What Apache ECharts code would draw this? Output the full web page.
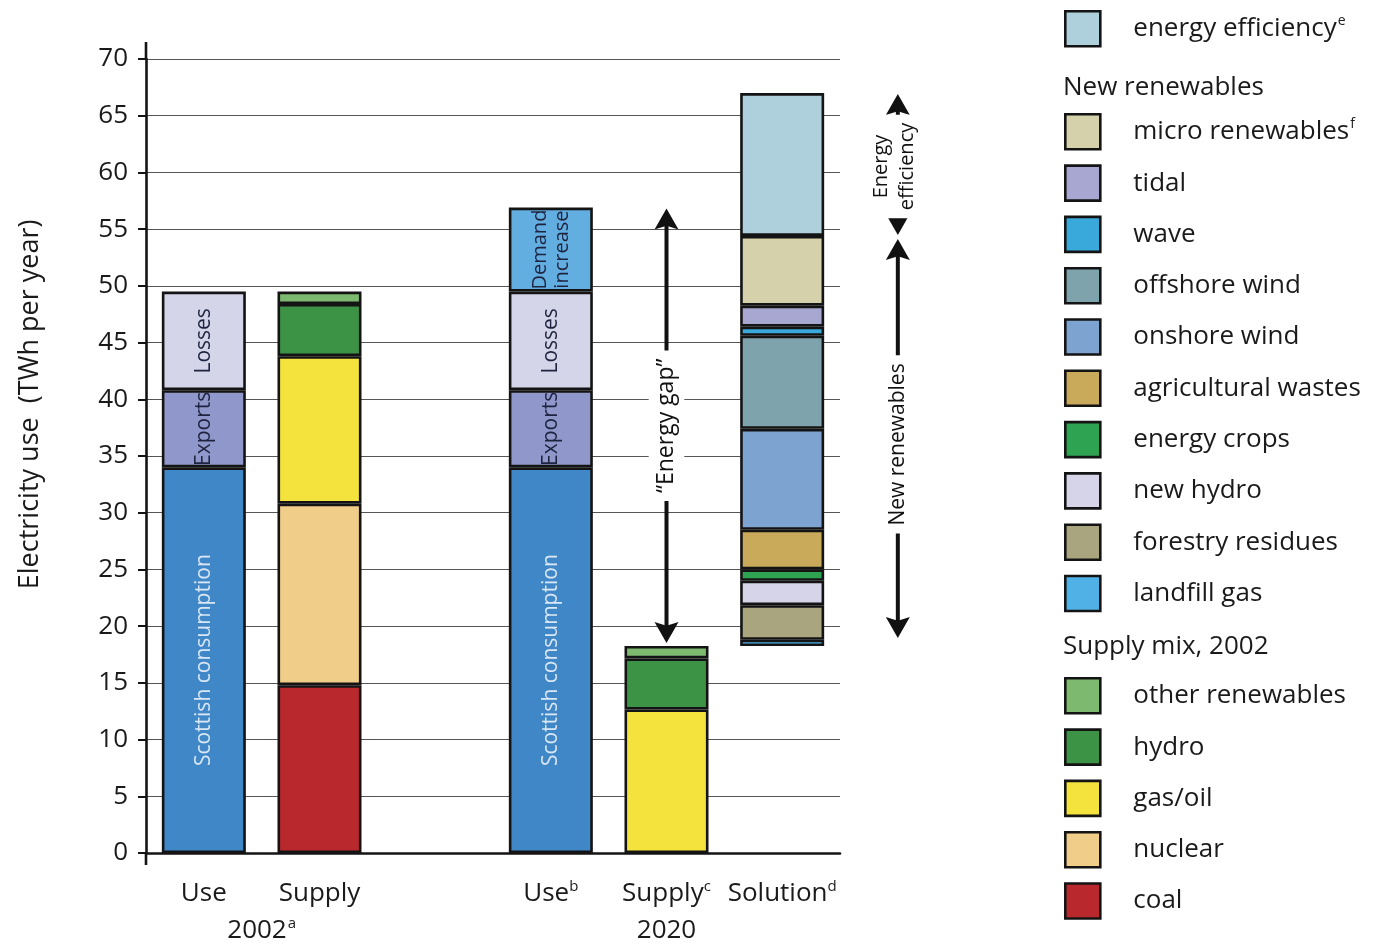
<!DOCTYPE html>
<html><head><meta charset="utf-8">
<script src="https://cdn.jsdelivr.net/npm/echarts@6/dist/echarts.min.js"></script>
<style>html,body{margin:0;padding:0;background:#fff}#c{width:1379px;height:945px}</style>
</head><body><div id="c"></div>
<script>
// ---------- data ----------
const categories = ['Use', 'Supply', '', 'Use', 'Supply', 'Solution'];
const categorySup = ['', '', '', 'b', 'c', 'd'];
const groupLabels = [
  { text: '2002', sup: 'a', from: 0, to: 1 },
  { text: '2020', sup: '', from: 3, to: 5 }
];
const yMin = 0, yMax = 70, yStep = 5;

// Use bars
const scottishConsumption = [34, '-', '-', 34, '-', '-'];
const exportsVals        = [6.8, '-', '-', 6.8, '-', '-'];
const losses             = [8.7, '-', '-', 8.7, '-', '-'];
const demandIncrease     = ['-', '-', '-', 7.4, '-', '-'];
// Supply mix
const coal            = ['-', 14.8, '-', '-', '-', '-'];
const nuclear         = ['-', 16.0, '-', '-', '-', '-'];
const gasOil          = ['-', 13.0, '-', '-', 12.65, '-'];
const hydro           = ['-', 4.6, '-', '-', 4.5, '-'];
const otherRenewables = ['-', 1.1, '-', '-', 1.1, '-'];
// Solution (stacked on top of the 2020 supply level)
const solutionBase       = ['-', '-', '-', '-', '-', 18.25];
const landfillGas        = ['-', '-', '-', '-', '-', 0.55];
const forestryResidues   = ['-', '-', '-', '-', '-', 3.05];
const newHydro           = ['-', '-', '-', '-', '-', 2.15];
const energyCrops        = ['-', '-', '-', '-', '-', 1.0];
const agriculturalWastes = ['-', '-', '-', '-', '-', 3.5];
const onshoreWind        = ['-', '-', '-', '-', '-', 8.9];
const offshoreWind       = ['-', '-', '-', '-', '-', 8.2];
const wave               = ['-', '-', '-', '-', '-', 0.8];
const tidal              = ['-', '-', '-', '-', '-', 1.85];
const microRenewables    = ['-', '-', '-', '-', '-', 6.15];
const energyEfficiency   = ['-', '-', '-', '-', '-', 12.6];

// ---------- styling ----------
const FONT = '"Open Sans", "Noto Sans", sans-serif';
const BORDER = '#141414';
const sumAt = (arrs, i) => arrs.reduce((s, a) => s + (typeof a[i] === 'number' ? a[i] : 0), 0);

function bar(name, data, color, label) {
  return {
    type: 'bar', name, data, stack: 'total', barWidth: 84,
    itemStyle: { color, borderColor: BORDER, borderWidth: 2.6 },
    label: label ? Object.assign({ show: true, position: 'inside', rotate: 90, fontFamily: FONT, fontSize: 21 }, label) : { show: false },
    emphasis: { disabled: true }, silent: true
  };
}

const series = [
  { type: 'bar', name: 'base', data: solutionBase, stack: 'total', barWidth: 84,
    itemStyle: { color: 'rgba(0,0,0,0)', borderWidth: 0 }, silent: true, emphasis: { disabled: true } },
  bar('Scottish consumption', scottishConsumption, '#3f87c6', { formatter: 'Scottish consumption', color: '#d8e6f5' }),
  bar('Exports', exportsVals, '#9098cb', { formatter: 'Exports', color: '#1e2340' }),
  bar('Losses', losses, '#d4d5e9', { formatter: 'Losses', color: '#1e2340' }),
  bar('Demand increase', demandIncrease, '#62aee0', { formatter: 'Demand\nincrease', color: '#1e2340', lineHeight: 22, fontSize: 20 }),
  bar('coal', coal, '#b8282c'),
  bar('nuclear', nuclear, '#f0cd88'),
  bar('gas/oil', gasOil, '#f3e33c'),
  bar('hydro', hydro, '#3d9345'),
  bar('other renewables', otherRenewables, '#7dba6f'),
  bar('landfill gas', landfillGas, '#4fb1e6'),
  bar('forestry residues', forestryResidues, '#a8a57f'),
  bar('new hydro', newHydro, '#d5d4e9'),
  bar('energy crops', energyCrops, '#2ea452'),
  bar('agricultural wastes', agriculturalWastes, '#c9a95a'),
  bar('onshore wind', onshoreWind, '#7da3d1'),
  bar('offshore wind', offshoreWind, '#7fa3ad'),
  bar('wave', wave, '#38a9da'),
  bar('tidal', tidal, '#a7a7d2'),
  bar('micro renewables', microRenewables, '#d4d1ab'),
  bar('energy efficiency', energyEfficiency, '#aecfdc')
];

const legendSup = { 'energy efficiency': 'e', 'micro renewables': 'f' };
const legendCommon = {
  orient: 'vertical', left: 1064, padding: 0, itemWidth: 35, itemHeight: 35, itemGap: 13.7,
  icon: 'rect', selectedMode: false,
  itemStyle: { borderColor: BORDER, borderWidth: 2.6 },
  formatter: n => legendSup[n] ? '{t|' + n + '}{s|' + legendSup[n] + '}' : '{t|' + n + '}',
  textStyle: {
    padding: [0, 0, 0, 28],
    rich: {
      t: { fontFamily: FONT, fontSize: 26, color: '#1a1a1a', lineHeight: 30 },
      s: { fontFamily: FONT, fontSize: 14, color: '#1a1a1a', verticalAlign: 'top', lineHeight: 30, padding: [0, 0, 12, 1] }
    }
  }
};

const option = {
  animation: false,
  backgroundColor: '#fff',
  grid: { left: 146, right: 539, top: 59, bottom: 92 },
  xAxis: {
    type: 'category', data: categories,
    axisLine: { lineStyle: { color: BORDER, width: 2.6 } },
    axisTick: { show: false },
    axisLabel: {
      margin: 26, interval: 0,
      formatter: (v, i) => '{t|' + v + '}' + (categorySup[i] ? '{s|' + categorySup[i] + '}' : ''),
      rich: {
        t: { fontFamily: FONT, fontSize: 26, color: '#1a1a1a', lineHeight: 30 },
        s: { fontFamily: FONT, fontSize: 15, color: '#1a1a1a', verticalAlign: 'top', lineHeight: 30, padding: [0, 0, 12, 0] }
      }
    }
  },
  yAxis: {
    type: 'value', min: yMin, max: yMax, interval: yStep,
    axisLine: { show: true, lineStyle: { color: BORDER, width: 2.6 } },
    axisTick: { show: true, length: 8, lineStyle: { color: BORDER, width: 2 } },
    axisLabel: { fontFamily: FONT, fontSize: 26, color: '#1a1a1a', margin: 18 },
    splitLine: { lineStyle: { color: '#555', width: 1.2 } }
  },
  legend: [
    Object.assign({}, legendCommon, { top: 10, data: ['energy efficiency'] }),
    Object.assign({}, legendCommon, { top: 113, data: ['micro renewables', 'tidal', 'wave', 'offshore wind', 'onshore wind',
      'agricultural wastes', 'energy crops', 'new hydro', 'forestry residues', 'landfill gas'] }),
    Object.assign({}, legendCommon, { top: 677, data: ['other renewables', 'hydro', 'gas/oil', 'nuclear', 'coal'] })
  ],
  series
};

const chart = echarts.init(document.getElementById('c'), null, { renderer: 'canvas' });
chart.setOption(option);

// ---------- annotations positioned via the chart's scales ----------
const px = (i, v) => chart.convertToPixel({ gridIndex: 0 }, [i, v]);
const useStackTop = sumAt([scottishConsumption, exportsVals, losses, demandIncrease], 3);
const supply2020Top = sumAt([gasOil, hydro, otherRenewables], 4);
const solutionArrs = [solutionBase, landfillGas, forestryResidues, newHydro, energyCrops, agriculturalWastes,
  onshoreWind, offshoreWind, wave, tidal, microRenewables];
const renewTop = sumAt(solutionArrs, 5);
const solutionTop = renewTop + energyEfficiency[5];

const g = [];
const LW = 4;
function arrowHead(x, yTip, dir) { // dir: -1 up, +1 down
  const w = 12, h = 21;
  return { type: 'polygon', shape: { points: [[x, yTip], [x - w, yTip - dir * h], [x, yTip - dir * h * 0.82], [x + w, yTip - dir * h]] },
    style: { fill: '#111' }, z: 100 };
}
function vArrow(x, yTop, yBot) {
  g.push({ type: 'line', shape: { x1: x, y1: yTop + 12, x2: x, y2: yBot - 12 }, style: { stroke: '#111', lineWidth: LW }, z: 99 });
  g.push(arrowHead(x, yTop, -1));
  g.push(arrowHead(x, yBot, 1));
}
function vText(x, y, text, size, lh) {
  g.push({ type: 'text', x, y, rotation: Math.PI / 2, z: 101,
    style: { text, fontFamily: FONT, fontSize: size, fill: '#111', lineHeight: lh || size * 1.2,
      align: 'center', verticalAlign: 'middle', textAlign: 'center', textVerticalAlign: 'middle',
      backgroundColor: '#fff', padding: [4, 8] } });
}

// Energy gap arrow
const gx = px(4, 0)[0];
const gTop = px(4, useStackTop)[1] + 1, gBot = px(4, supply2020Top)[1] - 3;
vArrow(gx, gTop, gBot);
vText(gx, (gTop + gBot) / 2, '\u201CEnergy gap\u201D', 23);

// Right side arrows
const step = px(5, 0)[0] - px(4, 0)[0];
const rx = px(5, 0)[0] + step;
const eTop = px(5, solutionTop)[1] + 1, eBot = px(5, renewTop)[1] - 1;
const nTop = px(5, renewTop)[1] + 3, nBot = px(5, supply2020Top)[1] - 8;
vArrow(rx, eTop, eBot);
vText(rx - 4, (eTop + eBot) / 2 + 2, 'Energy\nefficiency', 20, 26);
vArrow(rx, nTop, nBot);
vText(rx, (nTop + nBot) / 2 + 6, 'New renewables', 21);

// Y axis title
const y0 = px(0, yMin)[1], y70 = px(0, yMax)[1];
g.push({ type: 'text', x: 30, y: y70 + (y0 - y70) * 0.435, rotation: Math.PI / 2,
  style: { text: 'Electricity use  (TWh per year)', fontFamily: FONT, fontSize: 27, fill: '#1a1a1a',
    align: 'center', verticalAlign: 'middle', textAlign: 'center', textVerticalAlign: 'middle' } });

// axis line extensions
const axX = px(0, 0)[0] - step / 2;
g.push({ type: 'line', shape: { x1: axX, y1: y70 - 17, x2: axX, y2: y70 }, style: { stroke: BORDER, lineWidth: 2.6 } });
g.push({ type: 'line', shape: { x1: axX, y1: y0, x2: axX, y2: y0 + 12 }, style: { stroke: BORDER, lineWidth: 2.6 } });

// Group labels under the axis
groupLabels.forEach(gl => {
  const cx = (px(gl.from, 0)[0] + px(gl.to, 0)[0]) / 2;
  g.push({ type: 'text', x: cx, y: y0 + 78,
    style: { text: '{t|' + gl.text + '}' + (gl.sup ? '{s|' + gl.sup + '}' : ''),
      align: 'center', verticalAlign: 'middle', textAlign: 'center', textVerticalAlign: 'middle',
      rich: {
        t: { fontFamily: FONT, fontSize: 26, fill: '#1a1a1a', color: '#1a1a1a', lineHeight: 30 },
        s: { fontFamily: FONT, fontSize: 15, fill: '#1a1a1a', color: '#1a1a1a', verticalAlign: 'top', lineHeight: 30, padding: [0, 0, 12, 1] }
      } } });
});

// Legend section headers
g.push({ type: 'text', x: 1063, y: 88, style: { text: 'New renewables', fontFamily: FONT, fontSize: 26, fill: '#1a1a1a', align: 'left', verticalAlign: 'middle', textAlign: 'left', textVerticalAlign: 'middle' } });
g.push({ type: 'text', x: 1063, y: 647, style: { text: 'Supply mix, 2002', fontFamily: FONT, fontSize: 26, fill: '#1a1a1a', align: 'left', verticalAlign: 'middle', textAlign: 'left', textVerticalAlign: 'middle' } });

chart.setOption({ graphic: g });
</script></body></html>
